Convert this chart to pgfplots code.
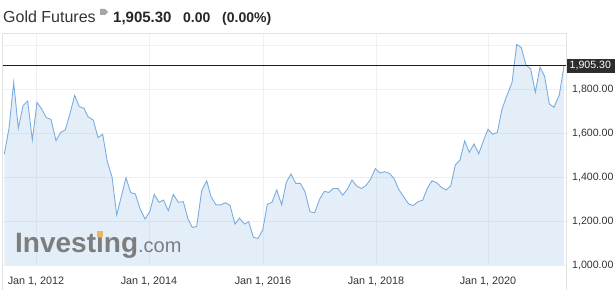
\documentclass[border=0pt]{standalone}
\usepackage{pgfplots}
\pgfplotsset{compat=1.18}
\usepackage{pgfplotstable}
\usepackage{fontspec}
\setmainfont{Liberation Sans}
\definecolor{linec}{RGB}{122,172,222}
\definecolor{gridc}{RGB}{240,240,240}
\definecolor{framec}{RGB}{226,226,226}
\definecolor{txt}{RGB}{51,51,51}
\definecolor{boxc}{RGB}{45,45,45}
\definecolor{wm}{RGB}{125,125,125}
\definecolor{dotc}{RGB}{236,182,96}
\pgfplotstableread{
x y
4.3 1504
9 1621
13.7 1830
18.3 1621
23 1724
27.7 1745
32.3 1568
37 1739
41.7 1709
46.3 1670
51 1662
56 1565
60.7 1603
65.3 1614
70 1688
74.7 1771
79.3 1720
84 1712
88 1674
93.3 1659
98 1579
102.7 1594
107.3 1470
112 1401
116.7 1227
121.3 1311
126 1397
130.7 1329
135.3 1323
140 1257
145 1209
149.7 1242
154.3 1321
159 1285
163.5 1295
168.3 1247
173.3 1321
178.3 1285
183.3 1288
188 1209
192.3 1171
196.7 1175
201.7 1338
206.7 1383
211 1311
216 1273
220.7 1273
225.3 1283
230 1271
235 1186
239.5 1213
244.5 1186
248.7 1197
253.3 1126
258 1121
262.7 1159
267.3 1276
272 1285
276.7 1341
281.7 1273
286.3 1376
291 1414
295.7 1371
300.3 1371
305 1333
310 1242
314.7 1238
319.5 1298
324.3 1335
328.7 1330
333.3 1348
338 1347
342.7 1318
347.3 1344
352 1386
356.7 1359
361.3 1348
366 1361
370.7 1391
375.3 1438
380 1418
384.7 1424
389.3 1417
394 1394
398.7 1344
404 1308
408.7 1277
413.3 1270
418 1288
422.7 1295
427.3 1348
432 1383
436.7 1374
441.3 1353
446 1341
450.7 1359
455.3 1455
460 1477
464.7 1564
469.3 1512
474 1550
478.7 1506
483.5 1565
488 1617
492.7 1594
497.3 1603
502 1708
506.7 1768
512 1829
516.7 2003
521.3 1988
526 1909
530.7 1891
535.3 1785
540 1899
544.7 1856
549.3 1732
554 1717
559.3 1773
564 1905
}\golddata
\begin{document}
\begin{tikzpicture}[x=1pt,y=1pt]
\begin{axis}[
  scale only axis, width=564pt, height=232pt,
  xmin=2, xmax=566, ymin=1000, ymax=2054.5,
  axis line style={draw=none},
  major tick length=0pt,
  clip mode=individual,
  xtick={36,149,263,376,488},
  xticklabels={{Jan 1, 2012},{Jan 1, 2014},{Jan 1, 2016},{Jan 1, 2018},{Jan 1, 2020}},
  ytick={1000,1200,1400,1600,1800,2000},
  yticklabels={{1,000.00},{1,200.00},{1,400.00},{1,600.00},{1,800.00},{}},
  yticklabel pos=right,
  /pgf/number format/assume math mode=true,
  xticklabel style={anchor=base, inner sep=0pt, yshift=-19pt, text=txt, font=\fontsize{10.8}{12}\selectfont},
  yticklabel style={anchor=west, inner sep=0pt, xshift=6pt, text=txt, font=\fontsize{10.6}{12}\selectfont},
  grid=major,
  major grid style={color=gridc, line width=0.8pt},
]
\addplot[draw=none, fill=linec, fill opacity=0.2] table[x=x,y=y] {\golddata} \closedcycle;
\addplot[color=linec, line width=0.9pt] table[x=x,y=y] {\golddata};
\addplot[color=black!88, line width=1.2pt] coordinates {(2,1905.3) (566,1905.3)};
\node[anchor=west, fill=boxc, text=white, inner xsep=4pt, minimum height=14pt, inner ysep=0pt, font=\fontsize{10.6}{12}\selectfont] at (axis cs:565.5,1905.3) {1,905.30};
\end{axis}
\draw[framec, line width=1pt] (0,-25) -- (0,232) -- (564,232) -- (564,-25);
\node[anchor=base west, inner sep=0pt, text=txt, font=\fontsize{16}{18}\selectfont] at (1,243) {Gold Futures};
\fill[gray!70] (98,256) -- (103,256) -- (106,253) -- (103,250) -- (98,250) -- cycle;
\node[anchor=base west, inner sep=0pt, text=black!85, font=\bfseries\fontsize{15}{18}\selectfont] at (111,243) {1,905.30};
\node[anchor=base west, inner sep=0pt, text=black!85, font=\bfseries\fontsize{14}{18}\selectfont] at (181,243) {0.00};
\node[anchor=base west, inner sep=0pt, text=black!85, font=\bfseries\fontsize{14}{18}\selectfont] at (220,243) {(0.00\%)};
\node[anchor=base west, inner sep=0pt, text=wm] at (13,13) {{\bfseries\fontsize{28}{30}\selectfont Invest\rlap{\hspace{1.2pt}\textcolor{dotc}{\rule[15.5pt]{5.5pt}{6pt}}}ıng}{\fontsize{20}{24}\selectfont .com}};
\pgfresetboundingbox
\path[use as bounding box] (-2,-25) rectangle (613,265);
\end{tikzpicture}
\end{document}
